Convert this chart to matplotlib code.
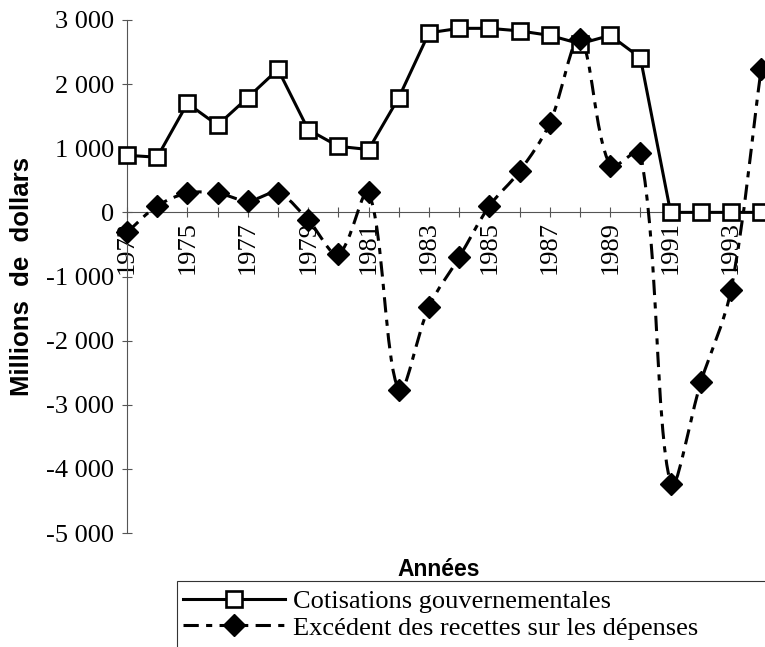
import numpy as np
import matplotlib.pyplot as plt
from matplotlib.path import Path
from matplotlib.patches import PathPatch, Rectangle
from matplotlib.lines import Line2D

plt.rcParams['font.family'] = ['Liberation Serif', 'DejaVu Serif']

years = list(range(1973, 1995))
cotisations = [890, 860, 1700, 1360, 1790, 2230, 1290, 1030, 980, 1790, 2800,
               2870, 2870, 2830, 2760, 2630, 2760, 2410, 0, 0, 0, 0]
excedent = [-310, 100, 300, 300, 180, 300, -120, -650, 310, -2770, -1470,
            -700, 100, 640, 1390, 2700, 730, 930, -4230, -2650, -1210, 2240]
ytick_values = [-5000, -4000, -3000, -2000, -1000, 0, 1000, 2000, 3000]
ytick_labels = ['-5 000', '-4 000', '-3 000', '-2 000', '-1 000', '0',
                '1 000', '2 000', '3 000']
label_cotis = 'Cotisations gouvernementales'
label_exced = 'Excédent des recettes sur les dépenses'

DASH = (0, (5, 2.4, 2, 2.4))
PX_X = 30.2      # pixels per year
PX_Y = 0.0641    # pixels per dollar unit


def smooth_path(x, y):
    # smoothed curve through the points, tangents weighted by screen segment length
    pts = np.column_stack([x, y]).astype(float)
    scr = pts * [PX_X, PX_Y]
    n = len(pts)
    seg = [np.hypot(*(scr[i + 1] - scr[i])) for i in range(n - 1)]
    verts = [pts[0]]
    codes = [Path.MOVETO]
    for i in range(n - 1):
        p1, p2 = pts[i], pts[i + 1]
        if i > 0:
            w = seg[i] / (seg[i - 1] + seg[i])
            c1 = p1 + (p2 - pts[i - 1]) * w / 3
        else:
            c1 = p1 + (p2 - p1) / 3
        if i + 2 < n:
            w = seg[i] / (seg[i] + seg[i + 1])
            c2 = p2 - (pts[i + 2] - p1) * w / 3
        else:
            c2 = p2 - (p2 - p1) / 3
        verts += [c1, c2, p2]
        codes += [Path.CURVE4] * 3
    return Path(verts, codes)


fig = plt.figure(figsize=(7.65, 6.47), dpi=100)
ax = fig.add_axes([127 / 765, 1 - 533 / 647, 638 / 765, 513 / 647])

# solid line with open squares
ax.plot(years, cotisations, color='black', lw=2.2, marker='s', ms=12,
        mfc='white', mec='black', mew=1.9, zorder=4, clip_on=False)

# smoothed dashed line with diamonds
ax.add_patch(PathPatch(smooth_path(years, excedent), fill=False, ec='black',
                       lw=2.2, linestyle=DASH, zorder=3, clip_on=False))
ax.plot(years, excedent, ls='none', marker='D', ms=11, color='black',
        zorder=5, clip_on=False)

ax.set_xlim(1973, 1973 + 638 / PX_X)
ax.set_ylim(-5000, 3000)

ax.spines['top'].set_visible(False)
ax.spines['right'].set_visible(False)
ax.spines['bottom'].set_position(('data', 0))
for s in ('left', 'bottom'):
    ax.spines[s].set_color('#555555')
    ax.spines[s].set_linewidth(0.8)

ax.set_xticks(years)
ax.set_xticklabels([str(y) if y % 2 == 1 else '' for y in years], rotation=90)
ax.set_yticks(ytick_values)
ax.set_yticklabels(ytick_labels)
ax.tick_params(axis='both', direction='inout', length=7, width=0.8,
               color='#555555', labelsize=19)
ax.tick_params(axis='x', pad=3)
ax.tick_params(axis='y', pad=6)

fig.text(22 / 765, 1 - 276 / 647, 'Millions  de  dollars', rotation=90,
         family='Liberation Sans', weight='bold', size=18.5,
         ha='center', va='center')
fig.text(439 / 765, 1 - 569 / 647, 'Années', family='Liberation Sans',
         weight='bold', size=16.5, ha='center', va='center')

# legend box (only top and left edges show in the picture)
fig.add_artist(Rectangle((177 / 765, -0.2), 1.0, (1 - 581 / 647) + 0.2,
                         transform=fig.transFigure, fill=False,
                         ec='#333333', lw=0.8))
handles = [
    Line2D([], [], color='black', lw=2.2, marker='s', ms=12, mfc='white',
           mec='black', mew=1.9),
    Line2D([], [], color='black', lw=2.2, ls=DASH, marker='D', ms=11),
]
fig.legend(handles, [label_cotis, label_exced], loc='upper left',
           bbox_to_anchor=(183 / 765, 1 - 590 / 647), frameon=False,
           borderpad=0, borderaxespad=0, handlelength=3.85,
           handletextpad=0.3, labelspacing=0.1, fontsize=19, numpoints=1)

fig.savefig('out.png', dpi=100)
